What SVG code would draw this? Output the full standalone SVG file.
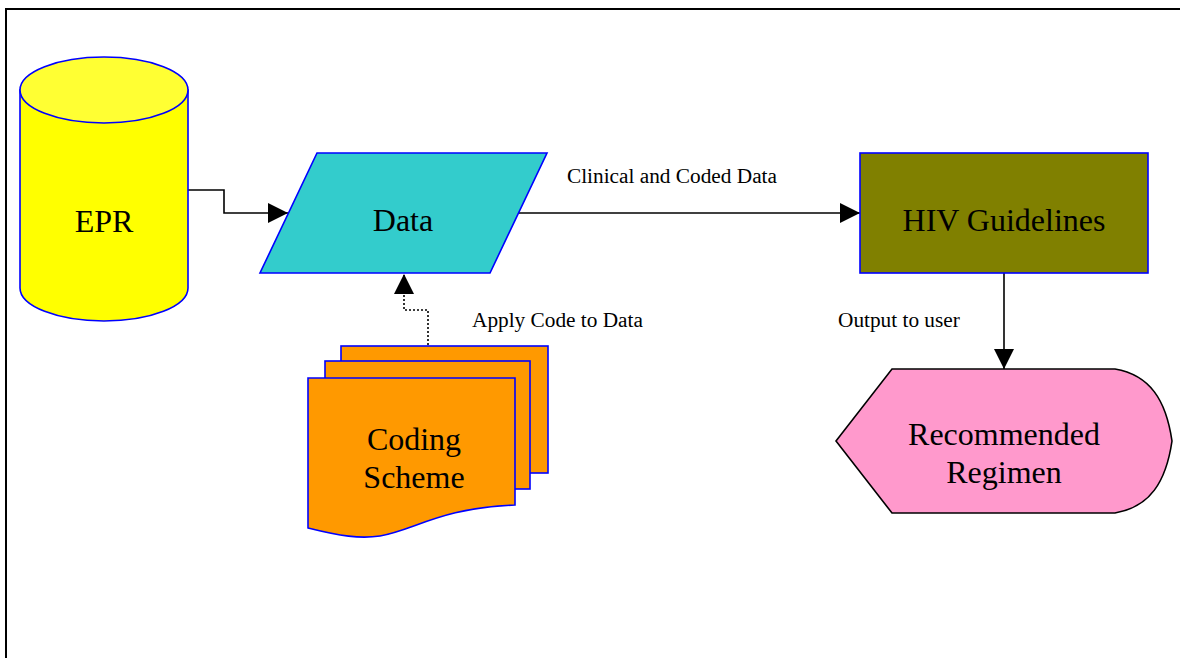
<svg xmlns="http://www.w3.org/2000/svg" width="1180" height="658" viewBox="0 0 1180 658">
<style>
text{font-family:"Liberation Serif","Times New Roman",serif;fill:#000}
.big{font-size:32px;text-anchor:middle}
.lbl{font-size:21.3px}
.node{stroke:#0000FF;stroke-width:1.6}
.conn{fill:none;stroke:#000;stroke-width:1.6}
</style>
<defs>
<marker id="arr" markerUnits="userSpaceOnUse" markerWidth="20" markerHeight="20" refX="20" refY="10" orient="auto">
<path d="M0,0 L20,10 L0,20 Z" fill="#000"/>
</marker>
</defs>
<rect x="6" y="9" width="1200" height="700" fill="#fff" stroke="#000" stroke-width="2"/>
<g id="connectors">
<path class="conn" d="M188,190 H224 V213 H288" marker-end="url(#arr)"/>
<path class="conn" d="M518,213 H860" marker-end="url(#arr)"/>
<path class="conn" d="M1004,273 V369" marker-end="url(#arr)"/>
<path class="conn" d="M428,345 V310 H404 V274" stroke-dasharray="2,2" stroke-width="1.2" marker-end="url(#arr)"/>
<text class="lbl" x="567" y="183">Clinical and Coded Data</text>
<text class="lbl" x="472" y="327">Apply Code to Data</text>
<text class="lbl" x="838" y="327">Output to user</text>
</g>
<g id="epr">
<path class="node" d="M20,90 L20,288 A84,33 0 0 0 188,288 L188,90 Z" fill="#FFFF00"/>
<ellipse class="node" cx="104" cy="90" rx="84" ry="33" fill="#FFFF33"/>
<text class="big" x="104" y="232">EPR</text>
</g>
<g id="data">
<polygon class="node" points="317,153 547,153 490,273 260,273" fill="#33CCCC"/>
<text class="big" x="403" y="231">Data</text>
</g>
<g id="hiv">
<rect class="node" x="860" y="153" width="288" height="120" fill="#808000"/>
<text class="big" x="1004" y="231">HIV Guidelines</text>
</g>
<g id="regimen">
<path d="M836,441 L892,369 H1115 C1150,375 1166,400 1172,441 C1166,482 1150,507 1115,513 H892 Z" fill="#FF99CC" stroke="#000" stroke-width="1.6"/>
<text class="big" x="1004" y="445">Recommended</text>
<text class="big" x="1004" y="483">Regimen</text>
</g>
<g id="coding">
<rect class="node" x="341" y="346" width="207" height="127" fill="#FF9900"/>
<rect class="node" x="325" y="361" width="205" height="128" fill="#FF9900"/>
<path class="node" d="M308,378 H515 V505 C440,508 415,530 380,536 C360,539 340,536 308,528 Z" fill="#FF9900"/>
<text class="big" x="414" y="450">Coding</text>
<text class="big" x="414" y="488">Scheme</text>
</g>
</svg>
